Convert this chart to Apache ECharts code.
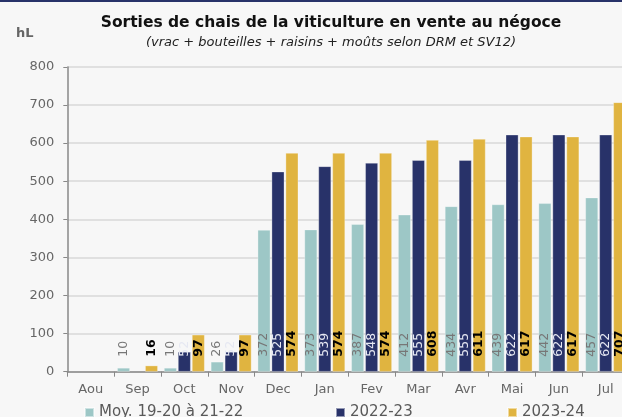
<!DOCTYPE html>
<html><head><meta charset="utf-8">
<script src="https://cdn.jsdelivr.net/npm/echarts@6/dist/echarts.min.js"></script>
<style>html,body{margin:0;padding:0;background:#f7f7f7;overflow:hidden;width:622px;height:417px;}#c{width:630px;height:417px;}#bar{position:absolute;left:0;top:0;width:622px;height:2px;background:#283269;z-index:5}</style>
</head><body><div id="bar"></div><div id="c"></div>
<script>
const categories = ['Aou','Sep','Oct','Nov','Dec','Jan','Fev','Mar','Avr','Mai','Jun','Jul'];
const moy = [null,10,10,26,372,373,387,412,434,439,442,457];
const s2223 = [null,null,52,52,525,539,548,555,555,622,622,622];
const s2324 = [null,16,97,97,574,574,574,608,611,617,617,707];
const yTicks = [0,100,200,300,400,500,600,700,800];
const names = ['Moy. 19-20 à 21-22','2022-23','2023-24'];
const colors = ['#9dc7c6','#283269','#e0b440'];
const F = 'DejaVu Sans';
const chart = echarts.init(document.getElementById('c'), null, {renderer:'canvas'});
function lbl(color, bold){
  return {show:true, position:'insideBottom', distance:15, rotate:90, align:'left', verticalAlign:'middle',
    color:color, fontFamily:F, fontSize:12.5, fontWeight: bold?'bold':'normal'};
}
function mk(i, data, label){
  return {name:names[i], type:'bar', data:data, barWidth:12.7, barGap:'10%',
    itemStyle:{color:colors[i], borderColor:'rgba(255,255,255,0.5)', borderWidth:0.6},
    label:label, animation:false};
}
chart.setOption({
  backgroundColor:'#f7f7f7',
  animation:false,
  textStyle:{fontFamily:F},
  title:[{text:'Sorties de chais de la viticulture en vente au négoce', left:326, top:10, textAlign:'center',
    textStyle:{fontFamily:F, fontSize:15.5, fontWeight:'bold', color:'#111'}},
    {text:'(vrac + bouteilles + raisins + moûts selon DRM et SV12)', left:326, top:31, textAlign:'center',
    textStyle:{fontFamily:F, fontSize:13, fontStyle:'italic', fontWeight:'normal', color:'#222'}},
    {text:'hL', left:11, top:22, textStyle:{fontFamily:F, fontSize:13, fontWeight:'bold', color:'#666'}}],
  legend:[0,1,2].map((i)=>({data:[names[i]], left:[79,330,502][i], top:400, itemWidth:9, itemHeight:9, itemGap:4,
    icon:'rect', textStyle:{fontFamily:F, fontSize:15, color:'#595959'}})),
  grid:{left:67.3, right:0.9, top:66.9, bottom:45.3, containLabel:false},
  xAxis:{type:'category', data:categories,
    axisLine:{lineStyle:{color:'#888', width:1.5}},
    axisTick:{show:true, alignWithLabel:false, length:5, lineStyle:{color:'#888'}},
    axisLabel:{color:'#666', fontFamily:F, fontSize:13, margin:11}},
  yAxis:{type:'value', min:yTicks[0], max:yTicks[yTicks.length-1], interval:100,
    axisLine:{show:true, lineStyle:{color:'#888', width:1.5}},
    axisTick:{show:true, length:4, lineStyle:{color:'#888'}},
    splitLine:{lineStyle:{color:'#d9d9d9', width:1.5}},
    axisLabel:{color:'#666', fontFamily:F, fontSize:13, margin:13}},
  series:[mk(0,moy,lbl('#777',false)), mk(1,s2223,lbl('#e6e8f2',false)), mk(2,s2324,lbl('#000',true))]
});
</script></body></html>
